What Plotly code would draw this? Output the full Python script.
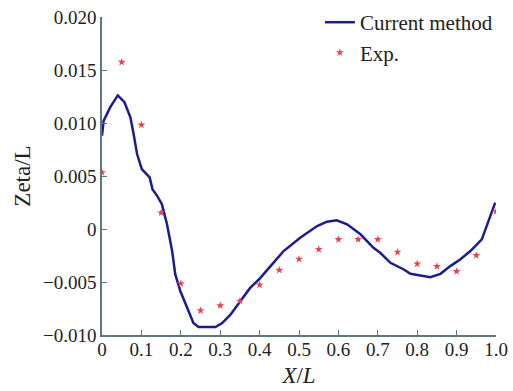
import plotly.graph_objects as go

# Computed line (Current method)
line_x = [0.0, 0.004, 0.021, 0.040, 0.057, 0.072, 0.080, 0.089, 0.101, 0.121, 0.128, 0.140,
          0.152, 0.165, 0.178, 0.186, 0.199, 0.216, 0.232, 0.245, 0.288, 0.305, 0.326, 0.351,
          0.376, 0.402, 0.427, 0.461, 0.503, 0.546, 0.571, 0.596, 0.622, 0.656, 0.689, 0.706,
          0.732, 0.766, 0.783, 0.808, 0.833, 0.859, 0.884, 0.909, 0.935, 0.964, 0.981, 0.998]
line_y = [0.0088, 0.0102, 0.0115, 0.0126, 0.01196, 0.01054, 0.0090, 0.00707, 0.00565, 0.00486,
          0.00376, 0.00313, 0.00234, 0.00045, -0.00208, -0.00429, -0.00587, -0.00745, -0.00887,
          -0.00925, -0.00925, -0.00887, -0.00808, -0.00682, -0.00556, -0.00461, -0.0035, -0.00208,
          -0.00082, 0.00028, 0.00069, 0.00082, 0.00044, -0.0005, -0.00177, -0.00224, -0.00319,
          -0.00382, -0.00423, -0.00436, -0.00455, -0.00423, -0.0035, -0.00287, -0.00208, -0.00098,
          0.00076, 0.00249]

# Experimental points
exp_x = [0.0, 0.05, 0.1, 0.15, 0.2, 0.25, 0.3, 0.35, 0.4, 0.45, 0.5, 0.55, 0.6, 0.65, 0.7,
         0.75, 0.8, 0.85, 0.9, 0.95, 1.0]
exp_y = [0.00533, 0.01575, 0.00982, 0.00154, -0.00514, -0.0077, -0.00723, -0.00679, -0.00527,
         -0.00388, -0.00284, -0.00192, -0.00098, -0.00098, -0.00098, -0.00218, -0.00329,
         -0.00353, -0.0040, -0.00249, 0.00164]

x_tickvals = [0, 0.1, 0.2, 0.3, 0.4, 0.5, 0.6, 0.7, 0.8, 0.9, 1.0]
x_ticktext = ["0", "0.1", "0.2", "0.3", "0.4", "0.5", "0.6", "0.7", "0.8", "0.9", "1.0"]
y_tickvals = [-0.010, -0.005, 0, 0.005, 0.010, 0.015, 0.020]
y_ticktext = ["\u22120.010", "\u22120.005", "0", "0.005", "0.010", "0.015", "0.020"]

axis_color = "#5b7b7b"
font = dict(family="Liberation Serif, Times New Roman, serif", size=19, color="#222222")

fig = go.Figure()
fig.add_trace(go.Scatter(x=line_x, y=line_y, mode="lines", name="Current method",
                         line=dict(color="#1c1c8e", width=2.5)))
fig.add_trace(go.Scatter(x=exp_x, y=exp_y, mode="markers", name="Exp.",
                         marker=dict(symbol="star", size=6, color="#e8404c")))

fig.update_layout(
    width=513, height=391,
    margin=dict(l=102, r=17, t=17, b=56, autoexpand=False),
    paper_bgcolor="white", plot_bgcolor="white",
    font=font,
    showlegend=True,
    legend=dict(x=0.553, y=1.047, xanchor="left", yanchor="top",
                bgcolor="rgba(0,0,0,0)", font=dict(size=21), tracegroupgap=0,
                itemwidth=30),
    xaxis=dict(range=[0, 1.0], tickvals=x_tickvals, ticktext=x_ticktext,
               showgrid=False, zeroline=False, showline=True, linecolor=axis_color,
               linewidth=1.5, ticks="inside", ticklen=5, tickcolor=axis_color,
               automargin=False, ticklabelstandoff=-4,
               title=dict(text="<i>X</i>/<i>L</i>", standoff=8)),
    yaxis=dict(range=[-0.010, 0.020], tickvals=y_tickvals, ticktext=y_ticktext,
               showgrid=False, zeroline=False, showline=True, linecolor=axis_color,
               linewidth=1.5, ticks="inside", ticklen=5, tickcolor=axis_color,
               automargin=False,
               title=dict(text="Zeta/L", standoff=6)),
)

fig.write_html("out.html")
